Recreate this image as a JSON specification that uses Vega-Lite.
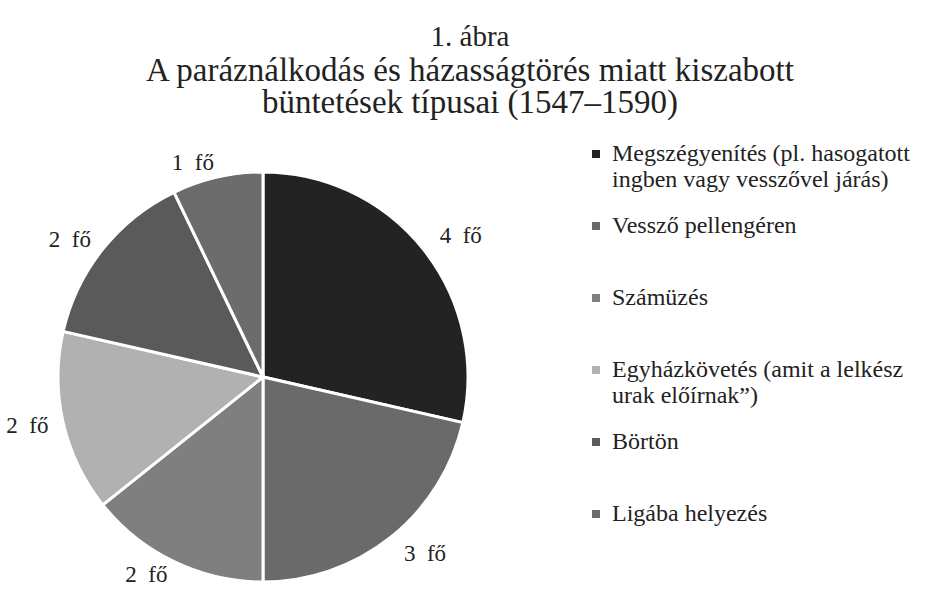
{
  "$schema": "https://vega.github.io/schema/vega-lite/v6.json",
  "width": 526,
  "height": 434,
  "autosize": {"type": "none"},
  "padding": {"top": 160, "left": 0, "right": 414, "bottom": 0},
  "background": "white",
  "view": {"stroke": null},
  "title": {
    "text": "1. ábra",
    "subtitle": ["A paráználkodás és házasságtörés miatt kiszabott", "büntetések típusai (1547–1590)"],
    "anchor": "middle",
    "dx": 207,
    "offset": 22,
    "font": "Liberation Serif",
    "fontSize": 29,
    "fontWeight": "normal",
    "color": "#222",
    "subtitleFont": "Liberation Serif",
    "subtitleFontSize": 33,
    "subtitleColor": "#222",
    "subtitleLineHeight": 32,
    "subtitlePadding": 3
  },
  "data": {
    "values": [
      {"kategoria": "Megszégyenítés (pl. hasogatott ingben vagy vesszővel járás)", "fo": 4, "felirat": "4\u00a0\u00a0fő", "oldal": "jobb", "sorrend": 1},
      {"kategoria": "Vessző pellengéren", "fo": 3, "felirat": "3\u00a0\u00a0fő", "oldal": "jobb", "sorrend": 2},
      {"kategoria": "Számüzés", "fo": 2, "felirat": "2\u00a0\u00a0fő", "oldal": "bal", "sorrend": 3},
      {"kategoria": "Egyházkövetés (amit a lelkész urak előírnak”)", "fo": 2, "felirat": "2\u00a0\u00a0fő", "oldal": "bal", "sorrend": 4},
      {"kategoria": "Börtön", "fo": 2, "felirat": "2\u00a0\u00a0fő", "oldal": "bal", "sorrend": 5},
      {"kategoria": "Ligába helyezés", "fo": 1, "felirat": "1\u00a0\u00a0fő", "oldal": "bal", "sorrend": 6}
    ]
  },
  "encoding": {
    "theta": {"field": "fo", "type": "quantitative", "stack": true},
    "order": {"field": "sorrend", "type": "ordinal"}
  },
  "layer": [
    {
      "mark": {"type": "arc", "outerRadius": 205, "stroke": "white", "strokeWidth": 3},
      "encoding": {
        "color": {
          "field": "kategoria",
          "type": "nominal",
          "sort": {"field": "sorrend"},
          "scale": {
            "domain": [
              "Megszégyenítés (pl. hasogatott ingben vagy vesszővel járás)",
              "Vessző pellengéren",
              "Számüzés",
              "Egyházkövetés (amit a lelkész urak előírnak”)",
              "Börtön",
              "Ligába helyezés"
            ],
            "range": ["#232323", "#6a6a6a", "#7f7f7f", "#b1b1b1", "#5a5a5a", "#6c6c6c"]
          },
          "legend": {
            "title": null,
            "orient": "none",
            "legendX": 584,
            "legendY": -18,
            "direction": "vertical",
            "symbolType": "square",
            "symbolSize": 64,
            "symbolStrokeWidth": 0,
            "labelFont": "Liberation Serif",
            "labelFontSize": 24,
            "labelColor": "#222",
            "labelLimit": 400,
            "labelOffset": 4,
            "labelBaseline": "middle",
            "gridAlign": "all",
            "rowPadding": 22,
            "labelExpr": "datum.label == 'Megszégyenítés (pl. hasogatott ingben vagy vesszővel járás)' ? ['Megszégyenítés (pl. hasogatott', 'ingben vagy vesszővel járás)'] : datum.label == 'Egyházkövetés (amit a lelkész urak előírnak”)' ? ['Egyházkövetés (amit a lelkész', 'urak előírnak”)'] : datum.label",
            "encode": {"labels": {"update": {"lineHeight": {"value": 30}, "font": {"value": "Liberation Serif"}, "fontSize": {"value": 24}}}}
          }
        }
      }
    },
    {
      "mark": {"type": "text", "radius": 226, "align": "left", "font": "Liberation Serif", "fontSize": 23, "color": "#222"},
      "encoding": {"text": {"condition": {"test": "datum.oldal == 'jobb'", "field": "felirat"}, "value": ""}}
    },
    {
      "mark": {"type": "text", "radius": 220, "align": "right", "font": "Liberation Serif", "fontSize": 23, "color": "#222"},
      "encoding": {"text": {"condition": {"test": "datum.oldal == 'bal'", "field": "felirat"}, "value": ""}}
    }
  ]
}
